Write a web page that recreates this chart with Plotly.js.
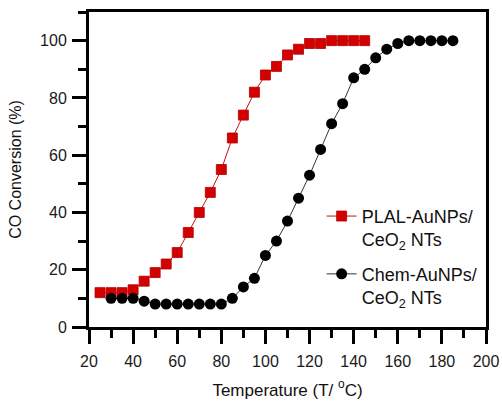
<!DOCTYPE html>
<html>
<head>
<meta charset="utf-8">
<script src="https://cdn.plot.ly/plotly-3.0.1.min.js"></script>
<style>
  html, body { margin: 0; padding: 0; background: #fff; }
  #chart { width: 502px; height: 408px; }
</style>
</head>
<body>
<div id="chart"></div>
<script>
// CO conversion light-off curves for the two gold/ceria catalysts
const plalTemp = [25, 30, 35, 40, 45, 50, 55, 60, 65, 70, 75, 80, 85, 90, 95, 100,
                  105, 110, 115, 120, 125, 130, 135, 140, 145];
const plalConv = [12, 12, 12, 13, 16, 19, 22, 26, 33, 40, 47, 55, 66, 74, 82, 88,
                  91, 95, 97, 99, 99, 100, 100, 100, 100];

const chemTemp = [30, 35, 40, 45, 50, 55, 60, 65, 70, 75, 80, 85, 90, 95, 100, 105,
                  110, 115, 120, 125, 130, 135, 140, 145, 150, 155, 160, 165, 170,
                  175, 180, 185];
const chemConv = [10, 10, 10, 9, 8, 8, 8, 8, 8, 8, 8, 10, 14, 17, 25, 30,
                  37, 45, 53, 62, 71, 78, 87, 90, 94, 97, 99, 100, 100,
                  100, 100, 100];

const seriesNames = ['PLAL-AuNPs/<br>CeO<sub>2</sub> NTs', 'Chem-AuNPs/<br>CeO<sub>2</sub> NTs'];
const xTitle = 'Temperature (T/ <sup>o</sup>C)';
const yTitle = 'CO Conversion (%)';

const FONT = 'Liberation Sans, Arial, Helvetica, sans-serif';

const traces = [
  {
    x: plalTemp, y: plalConv, name: seriesNames[0], legendgroup: 'a',
    type: 'scatter', mode: 'lines+markers',
    line: { color: '#c81010', width: 1 },
    marker: { symbol: 'square', size: 10, color: '#d40000', line: { color: '#b00000', width: 0.8 } }
  },
  {
    x: chemTemp, y: chemConv, name: seriesNames[1], legendgroup: 'b',
    type: 'scatter', mode: 'lines+markers',
    line: { color: '#333333', width: 1 },
    marker: { symbol: 'circle', size: 11, color: '#000000' }
  }
];

const axisCommon = {
  showline: true, linecolor: '#000', linewidth: 3, mirror: true,
  showgrid: false, zeroline: false,
  ticks: 'outside', ticklen: 14, tickwidth: 3, tickcolor: '#000',
  tickfont: { family: FONT, size: 16, color: '#1a1a1a' },
  minor: { ticks: 'outside', ticklen: 8, tickwidth: 3, tickcolor: '#000', showgrid: false }
};

const layout = {
  width: 502, height: 408,
  margin: { l: 89, r: 16, t: 12, b: 81 },
  paper_bgcolor: '#fff', plot_bgcolor: '#fff',
  font: { family: FONT, color: '#111' },
  showlegend: true,
  legend: {
    x: 0.586, y: 0.41, xanchor: 'left', yanchor: 'top',
    bgcolor: 'rgba(0,0,0,0)', borderwidth: 0,
    font: { family: FONT, size: 18, color: '#111' },
    valign: 'top', traceorder: 'grouped', tracegroupgap: 8
  },
  xaxis: Object.assign({}, axisCommon, {
    range: [20, 200], dtick: 20, tick0: 0,
    ticklabelstandoff: 4,
    minor: Object.assign({}, axisCommon.minor, { dtick: 10 }),
    title: { text: xTitle, font: { family: FONT, size: 17, color: '#111' }, standoff: 15 }
  }),
  yaxis: Object.assign({}, axisCommon, {
    range: [0, 110], dtick: 20, tick0: 0,
    ticklabelstandoff: 2,
    minor: Object.assign({}, axisCommon.minor, { dtick: 10 }),
    title: { text: yTitle, font: { family: FONT, size: 16, color: '#111' }, standoff: 15 }
  })
};

Plotly.newPlot('chart', traces, layout, { displayModeBar: false, staticPlot: true });
</script>
</body>
</html>
